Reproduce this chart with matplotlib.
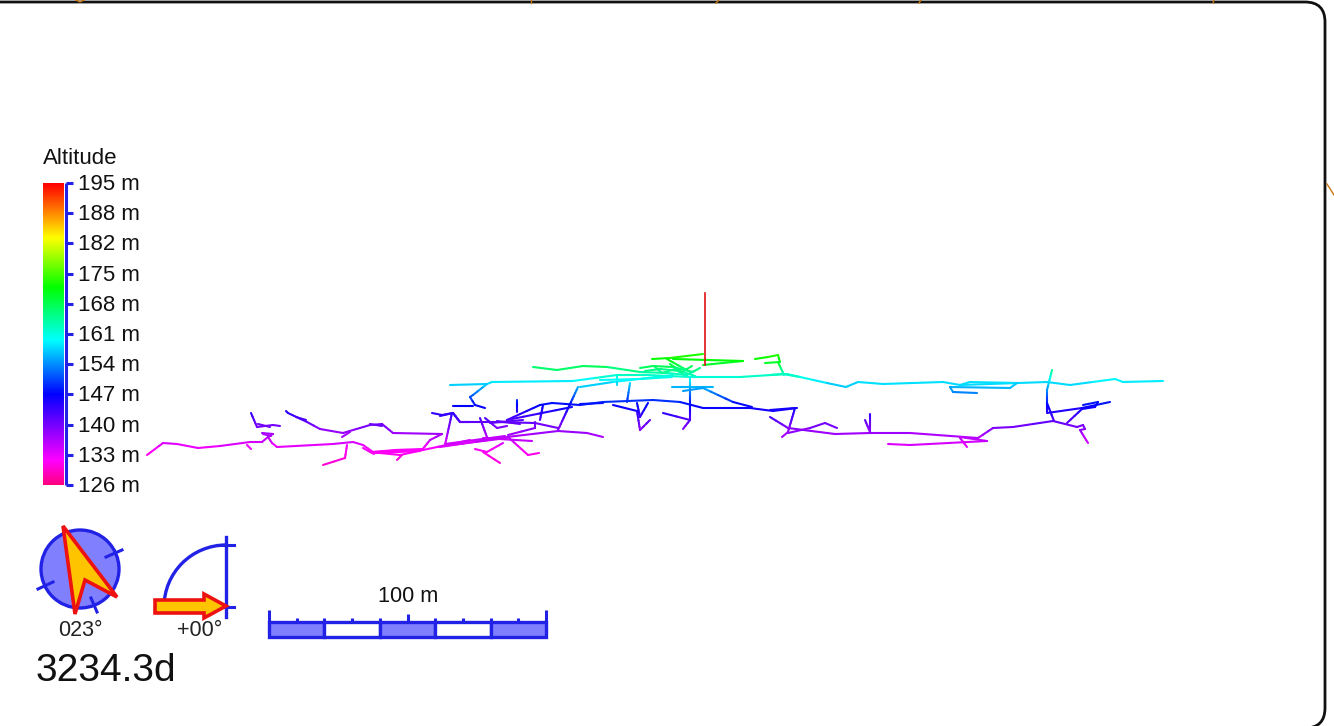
# -*- coding: utf-8 -*-

"""
Survex style elevation of a cave survey, coloured by altitude
"""

import matplotlib
matplotlib.use('Agg')
import matplotlib.pyplot as plt
import numpy as np
from matplotlib.collections import LineCollection
from matplotlib.colors import LinearSegmentedColormap
from matplotlib.patches import Circle, FancyBboxPatch, Polygon, Rectangle, Arc

plt.rcParams['font.family'] = ['Liberation Sans', 'DejaVu Sans']

altitude_labels = ['195 m', '188 m', '182 m', '175 m', '168 m', '161 m', '154 m', '147 m', '140 m', '133 m', '126 m']
altitude_top = 195.0
altitude_bottom = 126.0
bearing_label = '023°'
tilt_label = '+00°'
scale_label = '100 m'
length_label = '3234.3d'

# survey legs (x, y on the sheet)
west_legs = [
    [(147, 455), (163, 443), (177, 444), (198, 448), (220, 446), (250, 442), (262, 442), (268, 437)],
    [(247, 445), (251, 449)],
    [(268, 437), (272, 443), (277, 447), (333, 444), (353, 442), (363, 445), (373, 452), (420, 450)],
    [(347, 445), (345, 458), (323, 465)],
    [(262, 433), (273, 434), (268, 437)],
    [(263, 434), (271, 436)],
    [(251, 413), (257, 427), (273, 425), (280, 426)],
    [(258, 424), (270, 427)],
    [(286, 411), (288, 413), (307, 422), (320, 429), (343, 433), (370, 425), (382, 424), (393, 433), (442, 434)],
    [(296, 417), (306, 420)],
    [(370, 424), (382, 426)],
    [(342, 437), (350, 432)],
    [(442, 434), (430, 440), (422, 450)],
    [(452, 413), (445, 445)],
    [(432, 413), (442, 415), (453, 413), (460, 422), (470, 422)],
    [(370, 452), (400, 455), (423, 450), (470, 440)],
    [(397, 460), (402, 455)],
    [(373, 452), (395, 450), (423, 449)],
    [(363, 448), (374, 454)],
    [(376, 453), (398, 452), (420, 451)],
]
middle_legs = [
    [(533, 367), (557, 370), (583, 366), (607, 367), (640, 372)],
    [(652, 359), (670, 358), (703, 354)],
    [(667, 359), (690, 372)],
    [(703, 365), (743, 361), (673, 359)],
    [(640, 368), (653, 366), (673, 367), (693, 372)],
    [(640, 372), (667, 373), (687, 375), (700, 368)],
    [(645, 371), (660, 369), (680, 371), (695, 376)],
    [(655, 367), (662, 373), (675, 369), (684, 375)],
    [(670, 364), (682, 372), (692, 366)],
    [(755, 359), (768, 357), (778, 355), (780, 362), (765, 363)],
    [(778, 362), (784, 375)],
    [(450, 385), (487, 384), (492, 382), (573, 381), (617, 375), (647, 375), (690, 377), (740, 377), (787, 374), (800, 377)],
    [(580, 387), (613, 382), (673, 375)],
    [(600, 380), (640, 379), (672, 377)],
    [(617, 375), (617, 385)],
    [(487, 384), (473, 395), (470, 397), (475, 405), (485, 408)],
    [(453, 406), (473, 406)],
    [(672, 387), (713, 387)],
    [(683, 391), (703, 388), (733, 402), (752, 407)],
    [(690, 377), (690, 395), (690, 420)],
    [(630, 383), (627, 402)],
    [(507, 420), (540, 405), (552, 403), (580, 405), (603, 402), (653, 400), (680, 402), (703, 408), (750, 408), (773, 411), (797, 408)],
    [(580, 404), (603, 403)],
    [(517, 400), (517, 412)],
    [(543, 405), (540, 420)],
    [(507, 420), (572, 407)],
    [(578, 387), (558, 430)],
    [(440, 416), (453, 413), (460, 422), (480, 422), (497, 422), (535, 423), (558, 428)],
    [(480, 418), (488, 440)],
    [(485, 418), (497, 428), (507, 426)],
    [(490, 423), (523, 420)],
    [(497, 421), (520, 424)],
    [(535, 422), (535, 428), (508, 435)],
    [(558, 431), (507, 437), (440, 447)],
    [(507, 438), (443, 446)],
    [(505, 436), (445, 444)],
    [(558, 431), (587, 433), (603, 437)],
    [(483, 438), (532, 441)],
    [(508, 437), (528, 455), (539, 453)],
    [(503, 443), (487, 452), (475, 449)],
    [(483, 452), (500, 463)],
    [(613, 405), (637, 411), (640, 430), (650, 420)],
    [(637, 403), (640, 417), (648, 403)],
    [(663, 413), (690, 420), (683, 429)],
]
east_legs = [
    [(770, 375), (783, 374), (800, 377), (827, 383), (846, 387), (858, 382), (883, 384), (943, 382), (960, 385), (1047, 382), (1070, 385), (1115, 379), (1123, 382), (1163, 381)],
    [(960, 385), (970, 382), (1017, 383), (1010, 388), (950, 387), (953, 392), (977, 393)],
    [(1052, 370), (1047, 390), (1047, 412)],
    [(1047, 403), (1054, 421)],
    [(1047, 413), (1082, 408), (1110, 402)],
    [(1083, 405), (1098, 402), (1095, 407), (1082, 409), (1067, 423)],
    [(770, 410), (795, 408), (788, 432), (782, 437)],
    [(770, 417), (788, 428), (835, 434), (870, 433), (910, 433), (978, 438)],
    [(788, 433), (810, 428), (825, 423), (837, 428)],
    [(978, 438), (993, 428), (1013, 427), (1053, 421), (1077, 427), (1083, 425), (1085, 429), (1080, 430), (1088, 443)],
    [(870, 414), (870, 432)],
    [(865, 420), (870, 432)],
    [(888, 444), (910, 445), (987, 441), (960, 437)],
    [(960, 438), (967, 447)],
]
surface_leg = [(705, 293), (705, 365)]
stray_marks = [
    [(76, 0), (80, 2), (84, 0)],
    [(531, 0), (531, 3)],
    [(716, 3), (719, 0)],
    [(919, 3), (921, 0)],
    [(1213, 3), (1214, 0)],
    [(1327, 184), (1334, 195)],
]

# altitudes judged from the leg colours at a few heights on the sheet
sheet_y = [340, 360, 380, 405, 450, 470]
sheet_alt = [178, 171, 159, 147, 131.5, 129]

cave_cmap = LinearSegmentedColormap.from_list('altitude', [
    (0.00, '#ff0080'), (0.03, '#ff00b0'), (0.08, '#ff00ff'), (0.30, '#0000ff'),
    (0.48, '#00ffff'), (0.655, '#00ff00'), (0.82, '#ffff00'), (0.93, '#ff6000'), (1.00, '#ff0000'),
])

BLUE = '#2222e6'
FILL = '#8080ff'
RED = '#ee1111'
GOLD = '#ffc400'


def leg_altitude(y):
    return np.interp(y, sheet_y[::1], sheet_alt)


def draw_legs(ax, legs, lw=1.5):
    segs, cols = [], []
    for leg in legs:
        # split each leg so the colour follows the height
        for a, b in zip(leg[:-1], leg[1:]):
            n = max(int(abs(b[1] - a[1]) / 3), 1)
            xs = np.linspace(a[0], b[0], n + 1)
            ys = np.linspace(a[1], b[1], n + 1)
            for i in range(n):
                segs.append([(xs[i], ys[i]), (xs[i + 1], ys[i + 1])])
                cols.append((leg_altitude((ys[i] + ys[i + 1]) / 2) - altitude_bottom) / (altitude_top - altitude_bottom))
    ax.add_collection(LineCollection(segs, colors=cave_cmap(np.array(cols)), linewidths=lw, capstyle='round', zorder=3))


fig = plt.figure(figsize=(13.34, 7.26), dpi=100)
ax = fig.add_axes([0, 0, 1, 1])
ax.set_xlim(0, 1334)
ax.set_ylim(726, 0)
ax.axis('off')

for mark in stray_marks:
    ax.plot(*zip(*mark), color='#c87814', lw=1.0)

ax.add_patch(FancyBboxPatch((-40, 2), 1365, 726, boxstyle='round,pad=0,rounding_size=20',
                            fc='white', ec='#111111', lw=2.0, zorder=1))

draw_legs(ax, west_legs + middle_legs + east_legs)
ax.plot(*zip(*surface_leg), color='#e01010', lw=1.2, zorder=3)

# colour key
gradient = np.linspace(1, 0, 256).reshape(-1, 1)
ax.imshow(gradient, cmap=cave_cmap, vmin=0, vmax=1, extent=(43, 64, 485, 183), aspect='auto', zorder=2)
ax.set_xlim(0, 1334)
ax.set_ylim(726, 0)
ax.plot([66, 66], [183, 485], color=BLUE, lw=2.2, solid_capstyle='butt', zorder=3)
key_y = np.linspace(183, 485, len(altitude_labels))
for y, lab in zip(key_y, altitude_labels):
    ax.plot([66, 73], [y, y], color=BLUE, lw=2.2, solid_capstyle='butt', zorder=3)
    ax.text(78, y + 1.5, lab, fontsize=16, color='#111111', va='center', ha='left')
ax.text(43, 158, 'Altitude', fontsize=16, color='#111111', va='center', ha='left')

# compass
ax.add_patch(Circle((80, 569), 39, fc=FILL, ec=BLUE, lw=2.4, zorder=3))
for p, q in [((106, 557), (122, 550)), ((38, 589), (53, 582)), ((91, 598), (97, 612))]:
    ax.plot([p[0], q[0]], [p[1], q[1]], color=BLUE, lw=2.2, zorder=3)
ax.add_patch(Polygon([(63, 526), (117, 597), (85, 580), (75, 614)], closed=True, fc=GOLD, ec=RED, lw=2.6, joinstyle='miter', zorder=4))
ax.text(80, 631, bearing_label, fontsize=15.5, color='#222222', ha='center', va='center')

# clino
ax.add_patch(Arc((226, 607), 124, 124, theta1=180, theta2=270, ec=BLUE, lw=2.4, zorder=3))
ax.plot([226, 226], [537, 617], color=BLUE, lw=2.4, zorder=3)
ax.plot([218, 234], [545, 545], color=BLUE, lw=2.2, zorder=3)
ax.plot([218, 234], [607, 607], color=BLUE, lw=2.2, zorder=3)
ax.add_patch(Polygon([(155, 600), (204, 600), (204, 594), (226, 606), (204, 618), (204, 613), (155, 613)],
                     closed=True, fc=GOLD, ec=RED, lw=2.6, joinstyle='miter', zorder=4))
ax.text(200, 631, tilt_label, fontsize=15.5, color='#222222', ha='center', va='center')

# scale bar
bar_x = np.linspace(269, 546, 6)
for i in range(5):
    ax.add_patch(Rectangle((bar_x[i], 622), bar_x[i + 1] - bar_x[i], 15,
                           fc=FILL if i % 2 == 0 else 'white', ec=BLUE, lw=2.4, zorder=3))
tick_x = np.linspace(269, 546, 11)
tick_up = [12, 4, 4, 4, 4, 8, 4, 4, 4, 4, 12]
for x, up in zip(tick_x, tick_up):
    ax.plot([x, x], [622, 622 - up], color=BLUE, lw=2.2, solid_capstyle='butt', zorder=3)
ax.text(408, 597, scale_label, fontsize=15.7, color='#111111', ha='center', va='center')

ax.text(36, 671, length_label, fontsize=28, color='#111111', ha='left', va='center')

fig.savefig('out.png', dpi=100)
